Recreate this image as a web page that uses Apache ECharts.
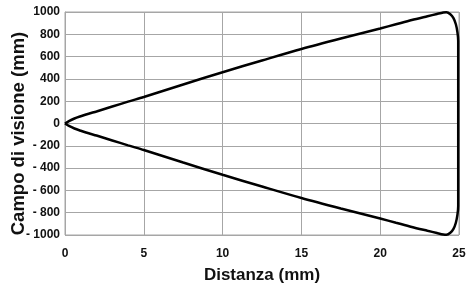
<!DOCTYPE html>
<html>
<head>
<meta charset="utf-8">
<script src="https://cdn.jsdelivr.net/npm/echarts@6/dist/echarts.min.js"></script>
<style>
  html, body { margin: 0; padding: 0; background: #fff; }
  #chart { width: 469px; height: 291px; }
</style>
</head>
<body>
<div id="chart"></div>
<script>
// distanza (mm) -> semi campo di visione (mm), ramo superiore
const distUpper = [0, 0.25, 0.6, 1, 1.5, 2, 3, 4, 5, 7.5, 10, 12.5, 15, 17.5, 20, 21, 22, 23, 23.6, 24, 24.2, 24.45, 24.65, 24.8, 24.9, 24.95]
const campoUpper = [0, 22, 45, 65, 88, 108, 152, 196, 238, 350, 460, 565, 668, 762, 852, 890, 928, 962, 982, 995, 998, 980, 945, 890, 820, 740]
const xTicks = [0, 5, 10, 15, 20, 25]

// ramo superiore in avanti, poi ramo inferiore a ritroso (simmetrico)
let outline = distUpper.map((d, i) => [d, campoUpper[i]])
for (let i = distUpper.length - 1; i >= 0; i--) {
    outline.push([distUpper[i], -campoUpper[i]])
}

const gridColor = "#a6a6a6"
const fontFam = "'Liberation Sans', Arial, sans-serif"

var myChart = echarts.init(document.getElementById("chart"), null, { renderer: "canvas" })

var option = {
    animation: false,
    backgroundColor: "#fff",
    grid: {
        left: 65,
        right: 10,
        top: 12,
        bottom: 56,
        containLabel: false,
        outerBoundsMode: "none",
        show: true,
        borderColor: gridColor,
        borderWidth: 1,
    },
    xAxis: {
        type: "value",
        min: 0,
        max: 25,
        interval: 5,
        name: "Distanza (mm)",
        nameLocation: "middle",
        nameGap: 32,
        nameMoveOverlap: false,
        nameTextStyle: {
            color: "#111",
            fontSize: 17,
            fontWeight: "bold",
            fontFamily: fontFam,
        },
        axisLine: { show: true, lineStyle: { color: gridColor, width: 1 } },
        axisTick: { show: false },
        splitLine: { show: true, lineStyle: { color: gridColor, width: 1 } },
        axisLabel: {
            color: "#111",
            fontSize: 12,
            fontWeight: "bold",
            fontFamily: fontFam,
            margin: 13,
            customValues: xTicks,
        },
    },
    yAxis: {
        type: "value",
        min: -1000,
        max: 1000,
        interval: 200,
        name: "Campo di visione (mm)",
        nameLocation: "middle",
        nameGap: 37,
        nameMoveOverlap: false,
        nameTextStyle: {
            color: "#111",
            fontSize: 18.5,
            fontWeight: "bold",
            fontFamily: fontFam,
            padding: [0, 20, 0, 0],
        },
        axisLine: { show: true, onZero: false, lineStyle: { color: gridColor, width: 1 } },
        axisTick: { show: false },
        splitLine: { show: true, lineStyle: { color: gridColor, width: 1 } },
        axisLabel: {
            color: "#111",
            fontSize: 12,
            fontWeight: "bold",
            fontFamily: fontFam,
            margin: 5,
            formatter: v => (v < 0 ? "- " + (-v) : String(v)),
        },
    },
    series: [
        {
            type: "line",
            data: outline,
            showSymbol: false,
            smooth: 0.3,
            lineStyle: { color: "#000", width: 2.5 },
        },
    ],
}

myChart.setOption(option, true)
</script>
</body>
</html>
